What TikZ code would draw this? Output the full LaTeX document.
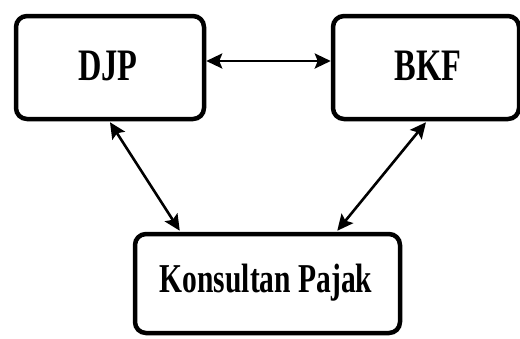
\documentclass[tikz,border=0pt]{standalone}
\usepackage{fontspec}
\usepackage{graphicx}
\setmainfont{Liberation Serif}
\usetikzlibrary{arrows.meta,calc}
\tikzset{
  box/.style={draw=black, line width=4.5pt, rounded corners=11pt, fill=white, inner sep=0pt},
  link/.style={line width=2.6pt, {Stealth[length=16pt,width=15pt,inset=3pt]}-{Stealth[length=16pt,width=15pt,inset=3pt]}}
}
\newcommand{\cond}[1]{\scalebox{0.72}[1]{#1}}
\begin{document}
\begin{tikzpicture}[x=1pt,y=1pt]
\useasboundingbox (0,0) rectangle (520,-338);
\clip (0,0) rectangle (520,-338);
\node[box, minimum width=188pt, minimum height=103pt] (djp) at (110,-67.5) {};
\node[font=\bfseries\fontsize{45}{50}\selectfont] at (108,-66) {\cond{DJP}};
\node[box, minimum width=186pt, minimum height=103pt] (bkf) at (426,-67.5) {};
\node[font=\bfseries\fontsize{45}{50}\selectfont] at (428,-66) {\cond{BKF}};
\node[box, minimum width=265pt, minimum height=99pt] (kp) at (267.5,-283.5) {};
\node[font=\bfseries\fontsize{41}{46}\selectfont] at (266,-283) {\cond{Konsultan Pajak}};
\draw[link] ([yshift=6.5pt]djp.east) -- ([yshift=6.5pt]bkf.west);
\draw[link] ([yshift=-1pt]djp.south) -- ([xshift=47pt,yshift=1pt]kp.north west);
\draw[link] ([yshift=-1pt]bkf.south) -- ([xshift=-65pt,yshift=1pt]kp.north east);
\end{tikzpicture}
\end{document}
